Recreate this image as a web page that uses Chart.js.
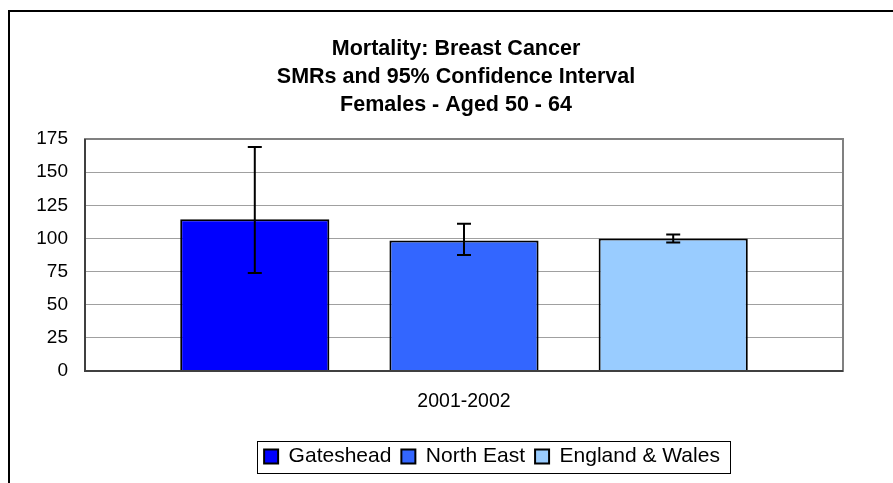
<!DOCTYPE html>
<html>
<head>
<meta charset="utf-8">
<title>Mortality: Breast Cancer</title>
<script src="https://cdn.jsdelivr.net/npm/chart.js@4/dist/chart.umd.min.js"></script>
<style>
    html, body { margin: 0; padding: 0; background: #fff; }
    #wrap { width: 893px; height: 483px; }
</style>
</head>
<body>
<div id="wrap"><canvas id="smrChart" width="893" height="483"></canvas></div>
<script>
// Datos del gráfico
const categorias = ['2001-2002'];
const areas = ['Gateshead', 'North East', 'England & Wales'];
const smr = [114.5, 98.5, 100];
const limiteInferior = [74, 87.5, 97];
const limiteSuperior = [169, 111, 103];
const colores = ['#0000FF', '#3366FF', '#99CCFF'];
const ticksY = [0, 25, 50, 75, 100, 125, 150, 175];
const titulo = ['Mortality: Breast Cancer', 'SMRs and 95% Confidence Interval', 'Females - Aged 50 - 64'];

const fuente = "'Liberation Sans', Arial, sans-serif";

document.addEventListener('DOMContentLoaded', () => {
    // Marco exterior, marco del área y recuadro de la leyenda
    const marcos = {
        id: 'marcos',
        afterLayout(chart) {
            // en el original título y leyenda no están centrados en el lienzo
            chart.titleBlock.left += 34.5;
            chart.titleBlock.right += 34.5;
            chart.legend.left += 70.5;
            chart.legend.right += 70.5;
        },
        beforeDraw(chart) {
            const ctx = chart.ctx;
            ctx.save();
            ctx.fillStyle = '#fff';
            ctx.fillRect(0, 0, chart.width, chart.height);
            ctx.strokeStyle = '#000';
            ctx.lineWidth = 2;
            ctx.strokeRect(9, 11, chart.width + 20, chart.height + 20);
            ctx.restore();
        },
        afterDraw(chart) {
            const ctx = chart.ctx;
            const a = chart.chartArea;
            ctx.save();
            ctx.strokeStyle = '#808080';
            ctx.lineWidth = 2;
            ctx.strokeRect(a.left, a.top, a.right - a.left, a.bottom - a.top);
            ctx.strokeStyle = '#404040';
            ctx.beginPath();
            ctx.moveTo(a.left, a.top);
            ctx.lineTo(a.left, a.bottom);
            ctx.lineTo(a.right, a.bottom);
            ctx.stroke();

            // recuadro de la leyenda
            const cajas = chart.legend.legendHitBoxes;
            if (cajas && cajas.length) {
                const izq = Math.min(...cajas.map(c => c.left)) - 7;
                const der = Math.max(...cajas.map(c => c.left + c.width)) + 10;
                const centro = cajas[0].top + cajas[0].height / 2;
                ctx.strokeStyle = '#000';
                ctx.lineWidth = 1;
                ctx.strokeRect(Math.round(izq) + 0.5, Math.round(centro - 16) + 0.5, Math.round(der - izq), 32);
            }
            ctx.restore();
        }
    };

    // Barras de error (intervalo de confianza 95%)
    const barrasError = {
        id: 'barrasError',
        afterDatasetsDraw(chart) {
            const ctx = chart.ctx;
            const y = chart.scales.y;
            ctx.save();
            ctx.strokeStyle = '#000';
            ctx.lineWidth = 2;
            areas.forEach((area, i) => {
                const barra = chart.getDatasetMeta(i).data[0];
                if (!barra) return;
                const x = barra.x;
                const yAlto = y.getPixelForValue(limiteSuperior[i]);
                const yBajo = y.getPixelForValue(limiteInferior[i]);
                ctx.beginPath();
                ctx.moveTo(x, yAlto);
                ctx.lineTo(x, yBajo);
                ctx.moveTo(x - 7, yAlto);
                ctx.lineTo(x + 7, yAlto);
                ctx.moveTo(x - 7, yBajo);
                ctx.lineTo(x + 7, yBajo);
                ctx.stroke();
            });
            ctx.restore();
        }
    };

    const ctx = document.getElementById('smrChart').getContext('2d');
    new Chart(ctx, {
        type: 'bar',
        data: {
            labels: categorias,
            datasets: areas.map((area, i) => ({
                label: area,
                data: [smr[i]],
                backgroundColor: colores[i],
                borderColor: '#000',
                borderWidth: 2,
                categoryPercentage: 0.828,
                barPercentage: 0.713
            }))
        },
        options: {
            responsive: false,
            animation: false,
            devicePixelRatio: 1,
            layout: {
                padding: { left: 0, right: 50, top: 0, bottom: 6 }
            },
            scales: {
                y: {
                    min: 0,
                    max: 175,
                    afterFit: s => { s.width = 85; },
                    afterBuildTicks: s => { s.ticks = ticksY.map(v => ({ value: v })); },
                    border: { display: false },
                    grid: { color: '#a0a0a0', lineWidth: 1, drawTicks: false },
                    ticks: {
                        padding: 17,
                        color: '#000',
                        font: { family: fuente, size: 19 }
                    }
                },
                x: {
                    afterFit: s => { s.height = 65; },
                    border: { display: false },
                    grid: { display: false, drawTicks: false },
                    ticks: {
                        padding: 19,
                        color: '#000',
                        font: { family: fuente, size: 19.5 }
                    }
                }
            },
            plugins: {
                title: {
                    display: true,
                    text: titulo,
                    color: '#000',
                    font: { family: fuente, size: 21.5, weight: 'bold', lineHeight: 28 / 21.5 },
                    padding: { top: 35, bottom: 20 }
                },
                legend: {
                    position: 'bottom',
                    labels: {
                        color: '#000',
                        boxWidth: 14,
                        boxHeight: 14,
                        padding: 10,
                        font: { family: fuente, size: 21 }
                    }
                },
                tooltip: { enabled: false }
            }
        },
        plugins: [marcos, barrasError]
    });
});
</script>
</body>
</html>
